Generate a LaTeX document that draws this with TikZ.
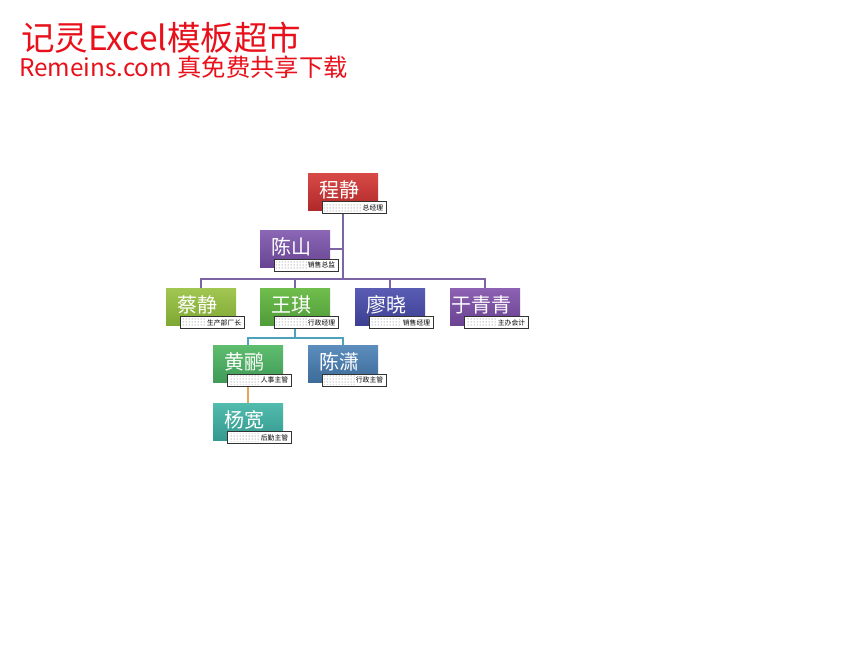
\documentclass[tikz,border=0pt]{standalone}
\usepackage{fontspec}
\newfontfamily\cjk{Noto Sans CJK SC}
\usetikzlibrary{patterns}
\definecolor{titlered}{HTML}{E8101A}
\definecolor{lnpurple}{HTML}{7D64A4}
\definecolor{lnteal}{HTML}{4AA3BA}
\definecolor{lnorange}{HTML}{E8A55A}
\definecolor{aT}{HTML}{D84A46}\definecolor{aB}{HTML}{B0292B}
\definecolor{bT}{HTML}{8A66B4}\definecolor{bB}{HTML}{684592}
\definecolor{cT}{HTML}{A2C652}\definecolor{cB}{HTML}{7EA833}
\definecolor{dT}{HTML}{70BE4C}\definecolor{dB}{HTML}{4F9C3A}
\definecolor{eT}{HTML}{5A5DB4}\definecolor{eB}{HTML}{3D3F93}
\definecolor{fT}{HTML}{8D61B3}\definecolor{fB}{HTML}{6A4391}
\definecolor{gT}{HTML}{5EBC6E}\definecolor{gB}{HTML}{3F9B56}
\definecolor{hT}{HTML}{5C8DBC}\definecolor{hB}{HTML}{3D6B9A}
\definecolor{iT}{HTML}{52BCAE}\definecolor{iB}{HTML}{35998F}
\tikzset{
  x=1pt,y=-1pt,
  person/.style={draw=none,minimum width=70pt,minimum height=37pt,inner sep=0pt},
  nametext/.style={text=white,font=\cjk\fontsize{20}{20}\selectfont,inner sep=0pt},
  lblbox/.style={draw=black!80,line width=0.5pt,fill=white,minimum width=64pt,minimum height=12pt,inner sep=0pt},
  lbltext/.style={font=\cjk\fontsize{6.8}{6.8}\selectfont,inner sep=0pt,text=black},
  conn/.style={line width=2pt},
}
\newcommand{\mkperson}[4]{%
  \node[person,top color=#1T,bottom color=#1B] (#1) at (#2,#3) {};
  \node[nametext] (#1n) at ([xshift=-4pt,yshift=2pt]#1.center) {#4};
}
\newcommand{\mklabel}[2]{%
  \node[lblbox,anchor=north west] (#1l) at ([xshift=14pt,yshift=9pt]#1.south west) {};
  \node[lbltext,anchor=east] (#1t) at ([xshift=-3pt]#1l.east) {#2};
  \fill[pattern=dots,pattern color=black!60] ([xshift=2pt,yshift=-2pt]#1l.north west) rectangle ([xshift=-1pt,yshift=2pt]#1t.west |- #1l.south);
}
\begin{document}
\begin{tikzpicture}
\useasboundingbox (0,0) rectangle (856,667);
\fill[white] (0,0) rectangle (856,667);
% title
\node[anchor=west,inner sep=0pt,text=titlered,font=\cjk\fontsize{33.5}{33.5}\selectfont] (title) at (21,38) {记灵Excel模板超市};
\node[anchor=west,inner sep=0pt,text=titlered,font=\cjk\fontsize{24.3}{24.3}\selectfont] (sub) at (19,67) {Remeins.com 真免费共享下载};
\coordinate (bus) at (343,279);
\coordinate (tbus) at (295,338);
% boxes
\mkperson{a}{343}{191.5}{程静}
\mkperson{b}{295}{249}{陈山}
\mkperson{c}{201}{306.5}{蔡静}
\mkperson{d}{295}{306.5}{王琪}
\mkperson{e}{390}{306.5}{廖晓}
\mkperson{f}{485}{306.5}{于青青}
\mkperson{g}{248}{364}{黄鹂}
\mkperson{h}{343}{364}{陈潇}
\mkperson{i}{248}{421.5}{杨宽}
% connectors
\draw[conn,lnpurple] (a.south) -- (a.south |- bus);
\draw[conn,lnpurple] (b.east) -- (b.east -| a.south);
\draw[conn,lnpurple] (c.north) -- (c.north |- bus) -- (f.north |- bus) -- (f.north);
\draw[conn,lnpurple] (d.north |- bus) -- (d.north);
\draw[conn,lnpurple] (e.north |- bus) -- (e.north);
\draw[conn,lnteal] (d.south) -- (d.south |- tbus);
\draw[conn,lnteal] (g.north) -- (g.north |- tbus) -- (h.north |- tbus) -- (h.north);
\draw[conn,lnorange] (g.south) -- (i.north);
% labels
\mklabel{a}{总经理}
\mklabel{b}{销售总监}
\mklabel{c}{生产部厂长}
\mklabel{d}{行政经理}
\mklabel{e}{销售经理}
\mklabel{f}{主办会计}
\mklabel{g}{人事主管}
\mklabel{h}{行政主管}
\mklabel{i}{后勤主管}
\end{tikzpicture}
\end{document}
